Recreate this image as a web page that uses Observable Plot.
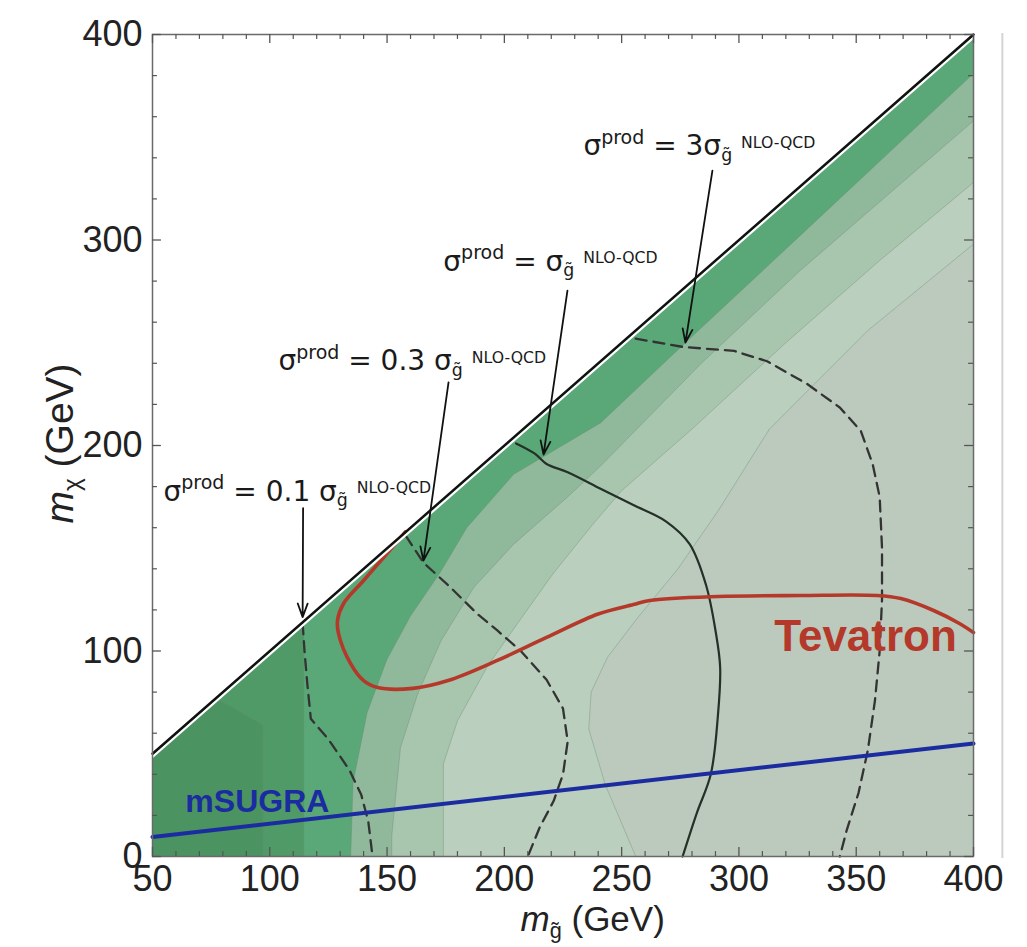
<!DOCTYPE html>
<html><head><meta charset="utf-8">
<script src="https://cdn.jsdelivr.net/npm/d3@7"></script>
<script src="https://cdn.jsdelivr.net/npm/@observablehq/plot@0.6"></script>
<style>body{margin:0;background:#fff} #chart svg{display:block}</style>
</head><body><div id="chart"></div>
<script>
// ---------- data (GeV) ----------
const xMajorTicks = [50,100,150,200,250,300,350,400];
const xMinorTicks = [60,70,80,90,110,120,130,140,160,170,180,190,210,220,230,240,260,270,280,290,310,320,330,340,360,370,380,390];
const yMajorTicks = [0,100,200,300,400];
const yMinorTicks = [20,40,60,80,120,140,160,180,220,240,260,280,320,340,360,380];

// kinematic boundary m_chi = m_gluino
const diagonal = [[50,50],[400,400]];
// shaded contour bands: boundaries from dark (left) to light (right)
const band1 = [[97,0],[97,64],[85,72],[77,77]];
const band2 = [[114.5,0],[114.5,114.5]];
const band3 = [[134.5,0],[135.5,36],[141.5,70],[150,96],[160,117],[172.5,138],[184,160],[204,186],[241,211],[280,253],[326,302],[400,381]];
const band4 = [[152,0],[152,10],[155.7,53],[163,79],[173,105],[187,131],[204,152],[227,175],[241,190],[284,240],[326,285],[400,358]];
const band5 = [[174,0],[174,45],[180,66],[193,93],[206,114],[221,138],[238,162],[250,178],[280,208],[320,250],[360,290],[400,328]];
const band6 = [[256,0],[243,35],[236,62],[237,80],[244,97],[256,115],[274,140],[291,168],[313,208],[355,256],[400,298]];
const bandColors = ["#4c9362","#4f9a66","#5aa777","#90b89b","#a8c5ae","#bacfbd","#bccabe"];

// contour lines
const sigma01 = [[114,113.5],[114.8,100],[116,84],[117.5,67],[125,57],[134,42],[139,30],[142,17],[143.8,0]];
const sigma03 = [[158,156],[165.5,143],[177,131],[188.5,118],[197,110],[207,100],[218,86],[225,72],[227,56],[225,40],[221,27],[215,14],[210,0]];
const sigma1  = [[205,201],[213,196],[218,191],[227,187],[241,179],[255,171],[269,163],[279,152],[286,132],[290,110],[292,92],[291,68],[288,40],[282,21],[276,0]];
const sigma3  = [[256,252],[276,248],[298,246],[312,241],[329,230],[343,218.5],[352,207],[357,191],[360,175],[361,150],[361,125],[360,100],[358,76],[355,52],[351,31],[346,13],[343,0]];
const tevatron = [[157.8,158],[148.5,145.5],[140,134.3],[131.4,123],[128.9,115],[129.3,108.5],[134.4,94],[140,85.6],[146,82.2],[161,81.8],[176,85.6],[197,95.4],[218,106.6],[240,118],[255,122.6],[262,124.6],[291,126.5],[326,127],[359,127],[369,125.5],[383,119.7],[394,113.4],[400,109]];
const msugra = [[50,9.5],[400,55]];

// annotations
const annotations = [
  {text:"σ{^prod} = 0.1 σ{_g̃} {~NLO-QCD}", x:54.7, y:177.6, x1:114.2, y1:169.5, x2:114, y2:116.5},
  {text:"σ{^prod} = 0.3 σ{_g̃} {~NLO-QCD}", x:103.7, y:240.9, x1:176.2, y1:230.7, x2:165.5, y2:144},
  {text:"σ{^prod} = σ{_g̃} {~NLO-QCD}", x:174, y:289.5, x1:226.9, y1:275.4, x2:216.7, y2:195.6},
  {text:"σ{^prod} = 3σ{_g̃} {~NLO-QCD}", x:233.7, y:345.5, x1:288.7, y1:333.8, x2:277.2, y2:250.1}
];
const curveLabels = [
  {text:"Tevatron", x:354, y:107, color:"#b5392b", size:44},
  {text:"mSUGRA", x:64, y:26.8, color:"#1b2ca0", size:32}
];
const xAxisLabel = {text:"{im}{_g̃} (GeV)", x:206.9, y:-30.7};
const yAxisLabel = {text:"{im}{_χ} (GeV)", x:10.6, y:201};
const pageEdge = [412.3];

// ---------- build ----------
const toPts = a => a.map(([x,y]) => ({x,y}));
const leftRegion = (b) => {
  const last = b[b.length-1];
  const pts = [[50,0], ...b];
  if (last[0] >= 400 && last[1] < 400) pts.push([400,400]);
  pts.push([50,50]);
  return toPts(pts);
};
const triangle = toPts([[50,0],[400,0],[400,400],[50,50]]);
const bounds = [band1,band2,band3,band4,band5,band6];

const fillMarks = [Plot.line(triangle, {x:"x", y:"y", fill: bandColors[6], stroke: "none"})];
for (let i = bounds.length-1; i >= 0; i--) {
  fillMarks.push(Plot.line(leftRegion(bounds[i]), {x:"x", y:"y", fill: bandColors[i], stroke:"none"}));
}
const boundaryMarks = bounds.map(b => Plot.line(toPts(b), {x:"x", y:"y", stroke:"#6f8c77", strokeOpacity:0.4, strokeWidth:1}));

const tickColor = "#555";
const marks = [
  ...fillMarks,
  ...boundaryMarks,
  Plot.line(toPts(sigma01), {x:"x", y:"y", stroke:"#333", strokeWidth:2.3, strokeDasharray:"11,7"}),
  Plot.line(toPts(sigma03), {x:"x", y:"y", stroke:"#333", strokeWidth:2.3, strokeDasharray:"11,7"}),
  Plot.line(toPts(sigma3), {x:"x", y:"y", stroke:"#333", strokeWidth:2.3, strokeDasharray:"11,7"}),
  Plot.line(toPts(sigma1), {x:"x", y:"y", stroke:"#243028", strokeWidth:2.2, curve:"catmull-rom"}),
  Plot.line(toPts(tevatron), {x:"x", y:"y", stroke:"#b5392b", strokeWidth:3.6, curve:"catmull-rom"}),
  Plot.line(toPts(msugra), {x:"x", y:"y", stroke:"#1b2ca0", strokeWidth:4}),
  Plot.line(toPts(diagonal), {x:"x", y:"y", stroke:"white", strokeWidth:2.2, dy:3.2}),
  Plot.line(toPts(diagonal), {x:"x", y:"y", stroke:"#111", strokeWidth:2.4}),
  Plot.frame({stroke:"#6a6a6a", strokeWidth:1.5}),
  Plot.ruleX(pageEdge, {y1:-1, y2:400.5, stroke:"#d4d4d4", strokeWidth:2}),
  // inward ticks on four sides
  Plot.ruleX(xMajorTicks, {y1:0, y2:4.4, stroke:tickColor, strokeWidth:1.3}),
  Plot.ruleX(xMinorTicks, {y1:0, y2:2.4, stroke:tickColor, strokeWidth:1.2}),
  Plot.ruleX(xMajorTicks, {y1:400, y2:395.6, stroke:tickColor, strokeWidth:1.3}),
  Plot.ruleX(xMinorTicks, {y1:400, y2:397.6, stroke:tickColor, strokeWidth:1.2}),
  Plot.ruleY(yMajorTicks, {x1:50, x2:53.8, stroke:tickColor, strokeWidth:1.3}),
  Plot.ruleY(yMinorTicks, {x1:50, x2:52.1, stroke:tickColor, strokeWidth:1.2}),
  Plot.ruleY(yMajorTicks, {x1:400, x2:396.2, stroke:tickColor, strokeWidth:1.3}),
  Plot.ruleY(yMinorTicks, {x1:400, x2:397.9, stroke:tickColor, strokeWidth:1.2}),
  Plot.axisX(xMajorTicks, {anchor:"bottom", tickSize:0, tickPadding:9, fontSize:36, label:null, fontFamily:"Liberation Sans, Arial, sans-serif"}),
  Plot.axisY(yMajorTicks, {anchor:"left", tickSize:0, tickPadding:10, fontSize:36, label:null, fontFamily:"Liberation Sans, Arial, sans-serif"}),
  // annotations
  Plot.text(annotations, {x:"x", y:"y", text:"text", textAnchor:"start", fontSize:28, fill:"#1a1a1a", fontFamily:"DejaVu Sans, sans-serif"}),
  Plot.arrow(annotations, {x1:"x1", y1:"y1", x2:"x2", y2:"y2", stroke:"#111", strokeWidth:1.8, headLength:12, headAngle:40}),
  Plot.text(curveLabels.slice(0,1), {x:"x", y:"y", text:"text", fill:d => d.color, fontSize:d => d.size, textAnchor:"middle", fontWeight:"bold", fontFamily:"Liberation Sans, Arial, sans-serif"}),
  Plot.text(curveLabels.slice(1), {x:"x", y:"y", text:"text", fill:d => d.color, fontSize:d => d.size, textAnchor:"start", fontWeight:"bold", fontFamily:"Liberation Sans, Arial, sans-serif"}),
  Plot.text([xAxisLabel], {x:"x", y:"y", text:"text", textAnchor:"start", fontSize:35, fill:"#222", fontFamily:"Liberation Sans, Arial, sans-serif"}),
  Plot.text([yAxisLabel], {x:"x", y:"y", text:"text", textAnchor:"middle", rotate:-90, fontSize:39, fill:"#222", fontFamily:"Liberation Sans, Arial, sans-serif"})
];

const chart = Plot.plot({
  width: 1027, height: 947,
  marginLeft: 152, marginRight: 54, marginTop: 34, marginBottom: 91,
  x: {domain:[50,400]},
  y: {domain:[0,400]},
  style: {fontFamily:"Liberation Sans, Arial, sans-serif", color:"#222", background:"white"},
  marks
});
document.getElementById("chart").append(chart);

// rich text: {^sup} {_sub} {~small sup} {iitalic}
const NS = "http://www.w3.org/2000/svg";
chart.querySelectorAll("text").forEach(t => {
  const s = t.textContent;
  if (!s.includes("{")) return;
  const base = parseFloat(getComputedStyle(t).fontSize) || 28;
  const parts = s.split(/(\{[\^_~i][^}]*\})/).filter(p => p.length);
  t.textContent = "";
  let shift = 0;
  const cfgs = {n:[1,0], "^":[0.68,-0.40], "_":[0.62,0.20], "~":[0.56,-0.26], i:[1,0]};
  for (const p of parts) {
    let kind = "n", txt = p;
    if (p.startsWith("{")) { kind = p[1]; txt = p.slice(2,-1); }
    const cfg = cfgs[kind];
    const ts = document.createElementNS(NS, "tspan");
    const target = cfg[1]*base;
    ts.setAttribute("dy", (target - shift).toFixed(2));
    shift = target;
    ts.setAttribute("font-size", (cfg[0]*base).toFixed(1));
    if (kind === "i") ts.setAttribute("font-style","italic");
    ts.textContent = txt;
    t.appendChild(ts);
  }
});
</script>
</body></html>
